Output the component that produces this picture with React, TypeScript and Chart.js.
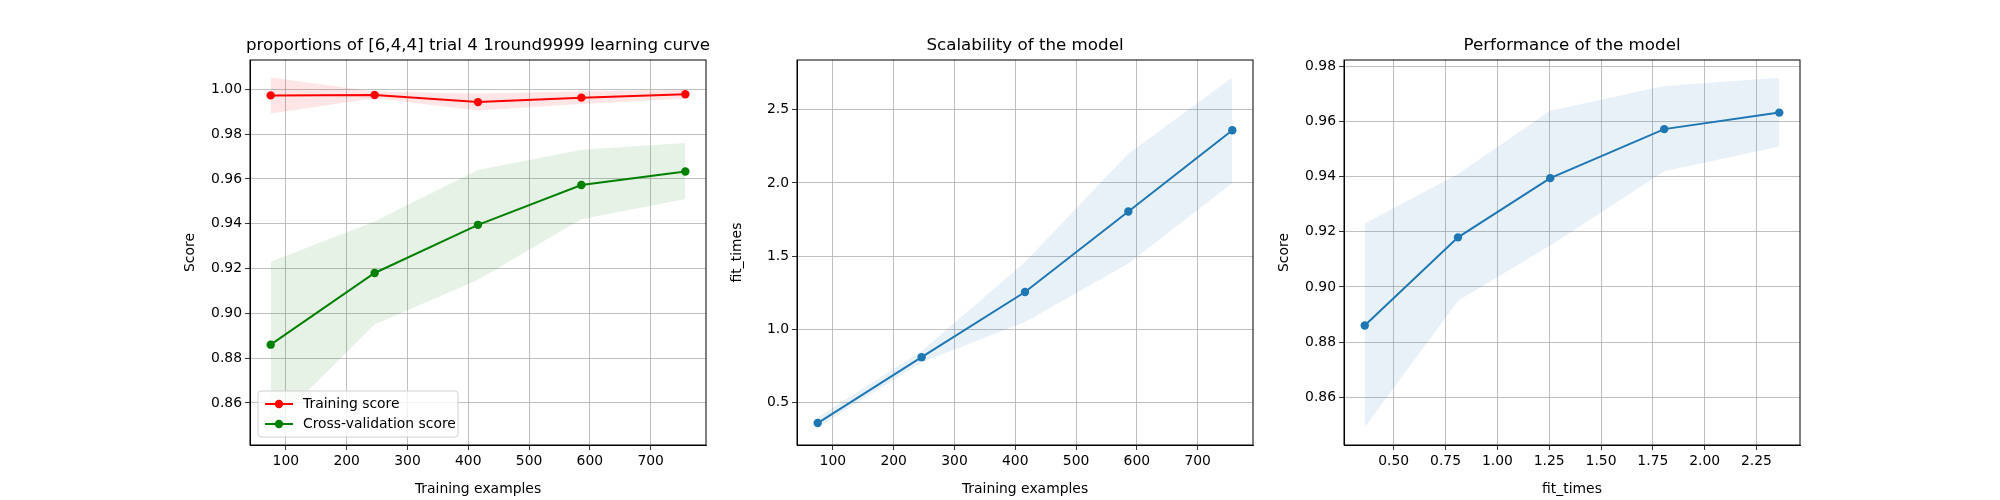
import { useEffect, useRef } from 'react';
import Chart from 'chart.js/auto';

// data
const trainSizes = [75, 246, 416, 586, 757];
const trainMean = [0.9973, 0.9975, 0.9943, 0.9963, 0.9978];
const trainLow = [0.9892, 0.9960, 0.9905, 0.9935, 0.9958];
const trainHigh = [1.0053, 0.9990, 0.9981, 0.9991, 0.9998];
const cvMean = [0.8860, 0.9180, 0.9395, 0.9573, 0.9633];
const cvLow = [0.8490, 0.8950, 0.9150, 0.9420, 0.9510];
const cvHigh = [0.9230, 0.9410, 0.9640, 0.9730, 0.9760];
const fitMean = [0.36, 0.81, 1.255, 1.805, 2.36];
const fitLow = [0.33, 0.775, 1.05, 1.45, 2.0];
const fitHigh = [0.40, 0.85, 1.46, 2.2, 2.72];

const ticksSizeX = [100, 200, 300, 400, 500, 600, 700];
const ticksScoreY1 = [0.86, 0.88, 0.90, 0.92, 0.94, 0.96, 0.98, 1.00];
const ticksFitY = [0.5, 1.0, 1.5, 2.0, 2.5];
const ticksFitX = [0.5, 0.75, 1.0, 1.25, 1.5, 1.75, 2.0, 2.25];
const ticksScoreY3 = [0.86, 0.88, 0.90, 0.92, 0.94, 0.96, 0.98];

const FONT = 'DejaVu Sans';
const BLUE = '#1f77b4';

const pts = (xs: number[], ys: number[]) => xs.map((x, i) => ({ x, y: ys[i] }));

const framePlugin = {
  id: 'frame',
  afterDraw(chart: any) {
    const { ctx, chartArea: a } = chart;
    ctx.save();
    ctx.strokeStyle = '#000';
    ctx.lineWidth = 1;
    ctx.strokeRect(a.left, a.top, a.right - a.left, a.bottom - a.top);
    const title = chart.options.plugins.mtitle;
    if (title) {
      ctx.fillStyle = '#000';
      ctx.font = `16.7px "${FONT}"`;
      ctx.textAlign = 'center';
      ctx.textBaseline = 'bottom';
      ctx.fillText(title, (a.left + a.right) / 2, a.top - 6);
    }
    const leg = chart.options.plugins.mlegend;
    if (leg) {
      const x0 = a.left + 8, h = 46, y0 = a.bottom - 8 - h, w = 200;
      ctx.fillStyle = 'rgba(255,255,255,0.8)';
      ctx.strokeStyle = '#d0d0d0';
      ctx.beginPath();
      ctx.roundRect(x0, y0, w, h, 3);
      ctx.fill();
      ctx.stroke();
      leg.forEach((l: any, i: number) => {
        const cy = y0 + 13 + i * 20;
        ctx.strokeStyle = l.color;
        ctx.lineWidth = 2;
        ctx.beginPath();
        ctx.moveTo(x0 + 7, cy);
        ctx.lineTo(x0 + 35, cy);
        ctx.stroke();
        ctx.fillStyle = l.color;
        ctx.beginPath();
        ctx.arc(x0 + 21, cy, 4.2, 0, Math.PI * 2);
        ctx.fill();
        ctx.fillStyle = '#000';
        ctx.font = `13.9px "${FONT}"`;
        ctx.textAlign = 'left';
        ctx.textBaseline = 'middle';
        ctx.fillText(l.label, x0 + 45, cy);
      });
    }
    ctx.restore();
  },
};

function axis(min: number, max: number, ticks: number[], dec: number, title: string, isX: boolean) {
  return {
    type: 'linear',
    min,
    max,
    afterBuildTicks: (s: any) => { s.ticks = ticks.map((v) => ({ value: v })); },
    afterFit: (s: any) => { if (isX) s.height = 55; else s.width = 70; },
    grid: { color: '#b0b0b0', lineWidth: 0.8, tickColor: '#000', tickLength: 5 },
    border: { color: '#000' },
    ticks: {
      color: '#000',
      font: { family: FONT, size: 13.9 },
      padding: 3,
      maxRotation: 0,
      autoSkip: false,
      callback: (v: any) => Number(v).toFixed(dec),
    },
    title: { display: true, text: title, color: '#000', font: { family: FONT, size: 13.9 }, padding: 2 },
  };
}

function band(xs: number[], lo: number[], hi: number[], fill: string) {
  return [
    { data: pts(xs, hi), borderWidth: 0, pointRadius: 0, backgroundColor: fill, fill: '+1' },
    { data: pts(xs, lo), borderWidth: 0, pointRadius: 0, backgroundColor: fill, fill: false },
  ];
}

function line(xs: number[], ys: number[], color: string) {
  return {
    data: pts(xs, ys), borderColor: color, backgroundColor: color, borderWidth: 2,
    pointRadius: 4.2, pointBorderWidth: 0, fill: false,
  };
}

function Panel({ left, config }: { left: number; config: any }) {
  const ref = useRef<HTMLCanvasElement>(null);
  useEffect(() => {
    if (!ref.current) return;
    const chart = new Chart(ref.current, config);
    return () => chart.destroy();
  }, []);
  return (
    <div style={{ position: 'absolute', left, top: 0, width: 536, height: 500 }}>
      <canvas ref={ref} />
    </div>
  );
}

function makeConfig(datasets: any[], x: any, y: any, title: string, legend?: any[]) {
  return {
    type: 'line',
    data: { datasets },
    plugins: [framePlugin],
    options: {
      animation: false,
      responsive: true,
      maintainAspectRatio: false,
      layout: { padding: { top: 60, right: 10, left: 0, bottom: 0 } },
      scales: { x, y },
      plugins: { legend: { display: false }, tooltip: { enabled: false }, mtitle: title, mlegend: legend },
    },
  };
}

export default function App() {
  const c1 = makeConfig(
    [
      ...band(trainSizes, trainLow, trainHigh, 'rgba(255,0,0,0.1)'),
      ...band(trainSizes, cvLow, cvHigh, 'rgba(0,128,0,0.1)'),
      line(trainSizes, trainMean, '#ff0000'),
      line(trainSizes, cvMean, '#008000'),
    ],
    axis(41, 791, ticksSizeX, 0, 'Training examples', true),
    axis(0.8412, 1.0131, ticksScoreY1, 2, 'Score', false),
    'proportions of [6,4,4] trial 4 1round9999 learning curve',
    [{ label: 'Training score', color: '#ff0000' }, { label: 'Cross-validation score', color: '#008000' }],
  );
  const c2 = makeConfig(
    [...band(trainSizes, fitLow, fitHigh, 'rgba(31,119,180,0.1)'), line(trainSizes, fitMean, BLUE)],
    axis(41, 791, ticksSizeX, 0, 'Training examples', true),
    axis(0.21, 2.84, ticksFitY, 1, 'fit_times', false),
    'Scalability of the model',
  );
  const c3 = makeConfig(
    [...band(fitMean, cvLow, cvHigh, 'rgba(31,119,180,0.1)'), line(fitMean, cvMean, BLUE)],
    axis(0.26, 2.46, ticksFitX, 2, 'fit_times', true),
    axis(0.8426, 0.9824, ticksScoreY3, 2, 'Score', false),
    'Performance of the model',
  );
  return (
    <div style={{ position: 'fixed', left: 0, top: 0, width: 2000, height: 500, background: '#fff' }}>
      <Panel left={180} config={c1} />
      <Panel left={727} config={c2} />
      <Panel left={1274} config={c3} />
    </div>
  );
}
